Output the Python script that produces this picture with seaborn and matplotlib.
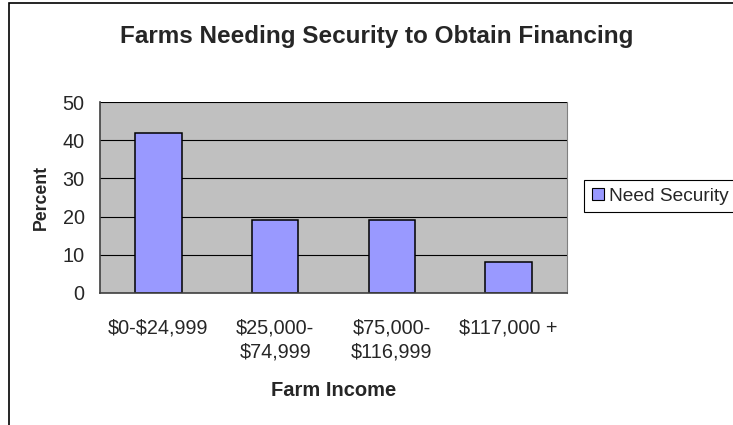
import seaborn as sns
import matplotlib.pyplot as plt
import matplotlib.patches as mpatches
import pandas as pd

# data
categories = ['$0-$24,999', '$25,000-\n$74,999', '$75,000-\n$116,999', '$117,000 +']
need_security = [42, 19, 19, 8]
series_name = 'Need Security'
y_ticks = [0, 10, 20, 30, 40, 50]

df = pd.DataFrame({'Farm Income': categories, 'Percent': need_security})

sns.set_style("white")
plt.rcParams['font.family'] = ['Liberation Sans', 'DejaVu Sans']

fig = plt.figure(figsize=(7.33, 4.25), dpi=100)
ax = fig.add_axes([100 / 733, 1 - 293 / 425, 467 / 733, 191 / 425])
ax.set_facecolor('#C0C0C0')

sns.barplot(data=df, x='Farm Income', y='Percent', color='#9999FF',
            edgecolor='black', linewidth=1.1, width=0.4, saturation=1,
            label=series_name, ax=ax)

# axes limits and grid
ax.set_xlim(-0.5, len(categories) - 0.5)
ax.set_ylim(0, 50)
ax.set_yticks(y_ticks)
ax.set_axisbelow(True)
ax.yaxis.grid(True, color='black', linewidth=0.8)
ax.xaxis.grid(False)

# category labels centred, tick marks at boundaries
ax.set_xticks(range(len(categories)))
ax.set_xticklabels(categories, fontsize=14.3, linespacing=1.4)
for t in ax.get_xticklabels():
    t.set_parse_math(False)
ax.tick_params(axis='x', which='major', length=0, pad=18)
ax.set_xticks([i - 0.5 for i in range(len(categories) + 1)], minor=True)
ax.tick_params(axis='x', which='minor', length=5, width=1, color='#404040', direction='out')
ax.tick_params(axis='y', length=6, width=1, color='#404040', labelsize=14.3, pad=5, direction='out')

for side in ['left', 'bottom']:
    ax.spines[side].set_color('#404040')
    ax.spines[side].set_linewidth(1.2)
ax.spines['right'].set_color('#808080')
ax.spines['top'].set_visible(False)

ax.set_xlabel('Farm Income', fontsize=14.5, fontweight='bold', labelpad=14)
ax.set_ylabel('Percent', fontsize=12.7, fontweight='bold', labelpad=9)

fig.text(377 / 733, 1 - 37 / 425, 'Farms Needing Security to Obtain Financing',
         ha='center', va='center', fontsize=17.5, fontweight='bold')

# legend box on the right, its right edge runs off the chart as in the reference
leg = ax.legend(loc='upper left', bbox_to_anchor=(584 / 733, 1 - 180 / 425),
                bbox_transform=fig.transFigure, fontsize=13.8, frameon=True,
                fancybox=False, edgecolor='black', framealpha=1,
                handlelength=0.62, handleheight=0.62, handletextpad=0.3,
                borderpad=0.4, borderaxespad=0)
leg.get_frame().set_linewidth(0.8)
for h in leg.legend_handles:
    h.set_edgecolor('black')
    h.set_linewidth(0.8)

# chart-area border
fig.patches.append(mpatches.Rectangle((8.5 / 733, -0.1), 2, 1.1 - 3 / 425,
                                      transform=fig.transFigure, fill=False,
                                      edgecolor='black', linewidth=1.2))

fig.savefig('out.png', dpi=100)
